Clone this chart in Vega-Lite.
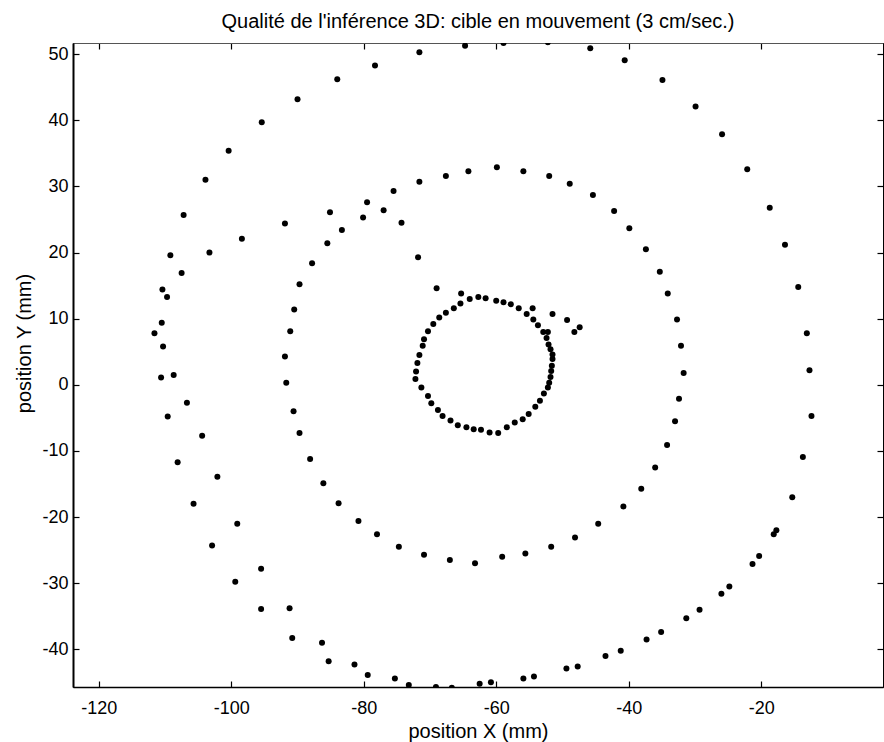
{
  "$schema": "https://vega.github.io/schema/vega-lite/v6.json",
  "width": 810,
  "height": 644,
  "autosize": "none",
  "padding": {"left": 73, "top": 43, "right": 1, "bottom": 55},
  "background": "white",
  "config": {
    "font": "Liberation Sans",
    "view": {"stroke": "black", "strokeWidth": 1}
  },
  "title": {
    "text": "Qualité de l'inférence 3D: cible en mouvement (3 cm/sec.)",
    "font": "Liberation Sans",
    "fontSize": 20,
    "fontWeight": "normal",
    "color": "black",
    "anchor": "middle",
    "baseline": "alphabetic",
    "offset": -8
  },
  "data": {"values": [
    {"x": -90.0, "y": 43.2}, {"x": -95.4, "y": 39.7}, {"x": -100.4, "y": 35.4}, {"x": -103.9, "y": 31.0},
    {"x": -107.2, "y": 25.7}, {"x": -109.2, "y": 19.6}, {"x": -107.5, "y": 16.9}, {"x": -103.3, "y": 20.0},
    {"x": -98.4, "y": 22.1}, {"x": -91.9, "y": 24.4}, {"x": -84.0, "y": 46.2}, {"x": -78.3, "y": 48.3},
    {"x": -71.6, "y": 50.3}, {"x": -64.7, "y": 51.3}, {"x": -58.9, "y": 51.7}, {"x": -52.2, "y": 51.8},
    {"x": -45.8, "y": 50.9}, {"x": -40.6, "y": 49.1}, {"x": -34.9, "y": 46.1}, {"x": -29.9, "y": 42.1},
    {"x": -25.9, "y": 37.9}, {"x": -22.1, "y": 32.6}, {"x": -18.7, "y": 26.8}, {"x": -16.4, "y": 21.2},
    {"x": -14.4, "y": 14.8}, {"x": -13.1, "y": 7.8}, {"x": -12.7, "y": 2.2}, {"x": -12.4, "y": -4.7},
    {"x": -13.7, "y": -10.9}, {"x": -15.3, "y": -17.0}, {"x": -17.7, "y": -22.0}, {"x": -18.1, "y": -22.6},
    {"x": -20.3, "y": -25.9}, {"x": -21.3, "y": -27.1}, {"x": -24.8, "y": -30.5}, {"x": -26.0, "y": -31.6},
    {"x": -29.3, "y": -34.0}, {"x": -31.3, "y": -35.3}, {"x": -35.1, "y": -37.4}, {"x": -37.3, "y": -38.5},
    {"x": -41.2, "y": -40.2}, {"x": -43.5, "y": -41.0}, {"x": -47.7, "y": -42.6}, {"x": -49.4, "y": -42.9},
    {"x": -54.3, "y": -44.1}, {"x": -55.9, "y": -44.4}, {"x": -60.8, "y": -45.0}, {"x": -62.5, "y": -45.2},
    {"x": -66.7, "y": -45.8}, {"x": -69.1, "y": -45.7}, {"x": -73.2, "y": -45.4}, {"x": -75.3, "y": -44.4},
    {"x": -79.4, "y": -43.9}, {"x": -81.4, "y": -42.3}, {"x": -85.3, "y": -41.8}, {"x": -86.3, "y": -39.0},
    {"x": -90.8, "y": -38.3}, {"x": -91.2, "y": -33.8}, {"x": -95.5, "y": -33.9}, {"x": -99.4, "y": -29.8},
    {"x": -95.5, "y": -27.8}, {"x": -99.1, "y": -21.0}, {"x": -102.9, "y": -24.3}, {"x": -105.7, "y": -18.0},
    {"x": -102.1, "y": -13.9}, {"x": -108.1, "y": -11.7}, {"x": -104.4, "y": -7.7}, {"x": -109.6, "y": -4.8},
    {"x": -106.7, "y": -2.7}, {"x": -108.7, "y": 1.5}, {"x": -110.6, "y": 1.1}, {"x": -110.3, "y": 5.8},
    {"x": -111.6, "y": 7.8}, {"x": -110.5, "y": 9.4}, {"x": -109.7, "y": 13.3}, {"x": -110.4, "y": 14.4},
    {"x": -85.1, "y": 26.1}, {"x": -87.8, "y": 18.4}, {"x": -85.5, "y": 21.4}, {"x": -83.3, "y": 23.4},
    {"x": -80.1, "y": 25.3}, {"x": -79.5, "y": 27.6}, {"x": -77.0, "y": 26.4}, {"x": -75.5, "y": 29.3},
    {"x": -74.3, "y": 24.5}, {"x": -71.6, "y": 30.7}, {"x": -71.8, "y": 19.3}, {"x": -67.6, "y": 31.6},
    {"x": -64.2, "y": 32.3}, {"x": -59.9, "y": 32.9}, {"x": -55.9, "y": 32.3}, {"x": -52.0, "y": 31.6},
    {"x": -48.9, "y": 30.4}, {"x": -45.4, "y": 28.7}, {"x": -42.2, "y": 26.3}, {"x": -39.9, "y": 23.7},
    {"x": -37.4, "y": 20.5}, {"x": -35.3, "y": 17.1}, {"x": -34.1, "y": 13.8}, {"x": -32.7, "y": 9.9},
    {"x": -32.1, "y": 5.9}, {"x": -31.7, "y": 1.8}, {"x": -32.4, "y": -2.1}, {"x": -33.0, "y": -5.5},
    {"x": -34.2, "y": -9.1}, {"x": -36.0, "y": -12.5}, {"x": -38.1, "y": -15.7}, {"x": -40.8, "y": -18.4},
    {"x": -44.6, "y": -21.0}, {"x": -48.1, "y": -23.1}, {"x": -51.7, "y": -24.5}, {"x": -55.6, "y": -25.5},
    {"x": -59.1, "y": -26.0}, {"x": -63.2, "y": -27.0}, {"x": -67.0, "y": -26.5}, {"x": -70.9, "y": -25.7},
    {"x": -74.7, "y": -24.5}, {"x": -78.0, "y": -22.6}, {"x": -80.8, "y": -20.6}, {"x": -83.8, "y": -17.9},
    {"x": -86.1, "y": -14.9}, {"x": -88.1, "y": -11.2}, {"x": -89.7, "y": -7.3}, {"x": -90.6, "y": -4.0},
    {"x": -91.7, "y": 0.3}, {"x": -91.9, "y": 4.3}, {"x": -91.1, "y": 8.1}, {"x": -90.5, "y": 11.4},
    {"x": -89.7, "y": 15.2},
    {"x": -69.0, "y": 14.6}, {"x": -65.3, "y": 13.8}, {"x": -65.4, "y": 12.3}, {"x": -64.0, "y": 13.0},
    {"x": -62.7, "y": 13.3}, {"x": -61.6, "y": 13.1}, {"x": -60.0, "y": 12.7}, {"x": -58.9, "y": 12.5},
    {"x": -57.8, "y": 12.2}, {"x": -56.6, "y": 11.6}, {"x": -54.5, "y": 11.6}, {"x": -51.5, "y": 10.7},
    {"x": -49.3, "y": 9.8}, {"x": -48.2, "y": 8.0}, {"x": -47.4, "y": 8.7}, {"x": -55.4, "y": 10.7},
    {"x": -54.4, "y": 9.9}, {"x": -53.7, "y": 9.0}, {"x": -52.9, "y": 8.0}, {"x": -52.2, "y": 8.0},
    {"x": -52.4, "y": 7.1}, {"x": -52.1, "y": 6.1}, {"x": -51.8, "y": 5.4}, {"x": -51.5, "y": 4.6},
    {"x": -51.5, "y": 3.9}, {"x": -51.6, "y": 2.9}, {"x": -51.7, "y": 2.1}, {"x": -51.8, "y": 1.2},
    {"x": -52.0, "y": 0.3}, {"x": -52.2, "y": -0.4}, {"x": -52.8, "y": -1.3}, {"x": -53.4, "y": -2.4},
    {"x": -54.1, "y": -3.3}, {"x": -55.1, "y": -4.4}, {"x": -56.0, "y": -5.2}, {"x": -57.2, "y": -5.7},
    {"x": -58.4, "y": -6.4}, {"x": -59.7, "y": -7.3}, {"x": -61.0, "y": -7.2}, {"x": -62.3, "y": -6.8},
    {"x": -63.4, "y": -6.7}, {"x": -64.5, "y": -6.4}, {"x": -65.8, "y": -6.1}, {"x": -66.9, "y": -5.4},
    {"x": -68.1, "y": -4.7}, {"x": -68.8, "y": -3.8}, {"x": -69.8, "y": -2.8}, {"x": -70.3, "y": -1.7},
    {"x": -71.3, "y": -0.4}, {"x": -72.2, "y": 0.9}, {"x": -72.1, "y": 2.0}, {"x": -71.9, "y": 3.3},
    {"x": -71.6, "y": 4.5}, {"x": -71.1, "y": 5.9}, {"x": -70.9, "y": 6.9}, {"x": -70.3, "y": 8.1},
    {"x": -69.5, "y": 9.2}, {"x": -68.6, "y": 10.2}, {"x": -67.6, "y": 10.9}, {"x": -66.4, "y": 11.6}
  ]},
  "layer": [
    {
      "mark": {"type": "point", "filled": true, "shape": "circle", "size": 36, "color": "black", "opacity": 1, "clip": true},
      "encoding": {
        "x": {"field": "x", "type": "quantitative",
          "scale": {"domain": [-123.9, -1.6], "nice": false, "zero": false},
          "axis": {"orient": "bottom", "values": [-120, -100, -80, -60, -40, -20], "title": "position X (mm)",
            "labelExpr": "replace(datum.label, '\u2212', '-')",
            "grid": false, "domainColor": "black", "domainWidth": 1.5, "tickColor": "black", "tickSize": -6, "tickWidth": 1.2,
            "labelFont": "Liberation Sans", "labelFontSize": 18, "labelColor": "black", "labelPadding": 18,
            "titleFont": "Liberation Sans", "titleFontSize": 20, "titleFontWeight": "normal", "titleColor": "black",
            "titleBaseline": "alphabetic", "titleY": 50}},
        "y": {"field": "y", "type": "quantitative",
          "scale": {"domain": [-45.7, 51.7], "nice": false, "zero": false},
          "axis": {"orient": "left", "values": [-40, -30, -20, -10, 0, 10, 20, 30, 40, 50], "title": "position Y (mm)",
            "labelExpr": "replace(datum.label, '\u2212', '-')",
            "grid": false, "domainColor": "black", "domainWidth": 2, "tickColor": "black", "tickSize": -6, "tickWidth": 1.2,
            "labelFont": "Liberation Sans", "labelFontSize": 18, "labelColor": "black", "labelPadding": 11,
            "titleFont": "Liberation Sans", "titleFontSize": 20, "titleFontWeight": "normal", "titleColor": "black",
            "titleBaseline": "alphabetic", "titleX": -43, "titleY": 300}}
      }
    },
    {
      "mark": {"type": "point", "filled": true, "opacity": 0},
      "encoding": {
        "x": {"field": "x", "type": "quantitative",
          "axis": {"orient": "top", "values": [-120, -100, -80, -60, -40, -20], "title": null, "labels": false,
            "grid": false, "domainColor": "#555", "domainWidth": 1, "tickColor": "black", "tickSize": -6, "tickWidth": 1.2}},
        "y": {"field": "y", "type": "quantitative",
          "axis": {"orient": "right", "values": [-40, -30, -20, -10, 0, 10, 20, 30, 40, 50], "title": null, "labels": false,
            "grid": false, "domainColor": "black", "domainWidth": 1, "tickColor": "black", "tickSize": -6, "tickWidth": 1.2}}
      }
    }
  ],
  "resolve": {"axis": {"x": "independent", "y": "independent"}}
}
